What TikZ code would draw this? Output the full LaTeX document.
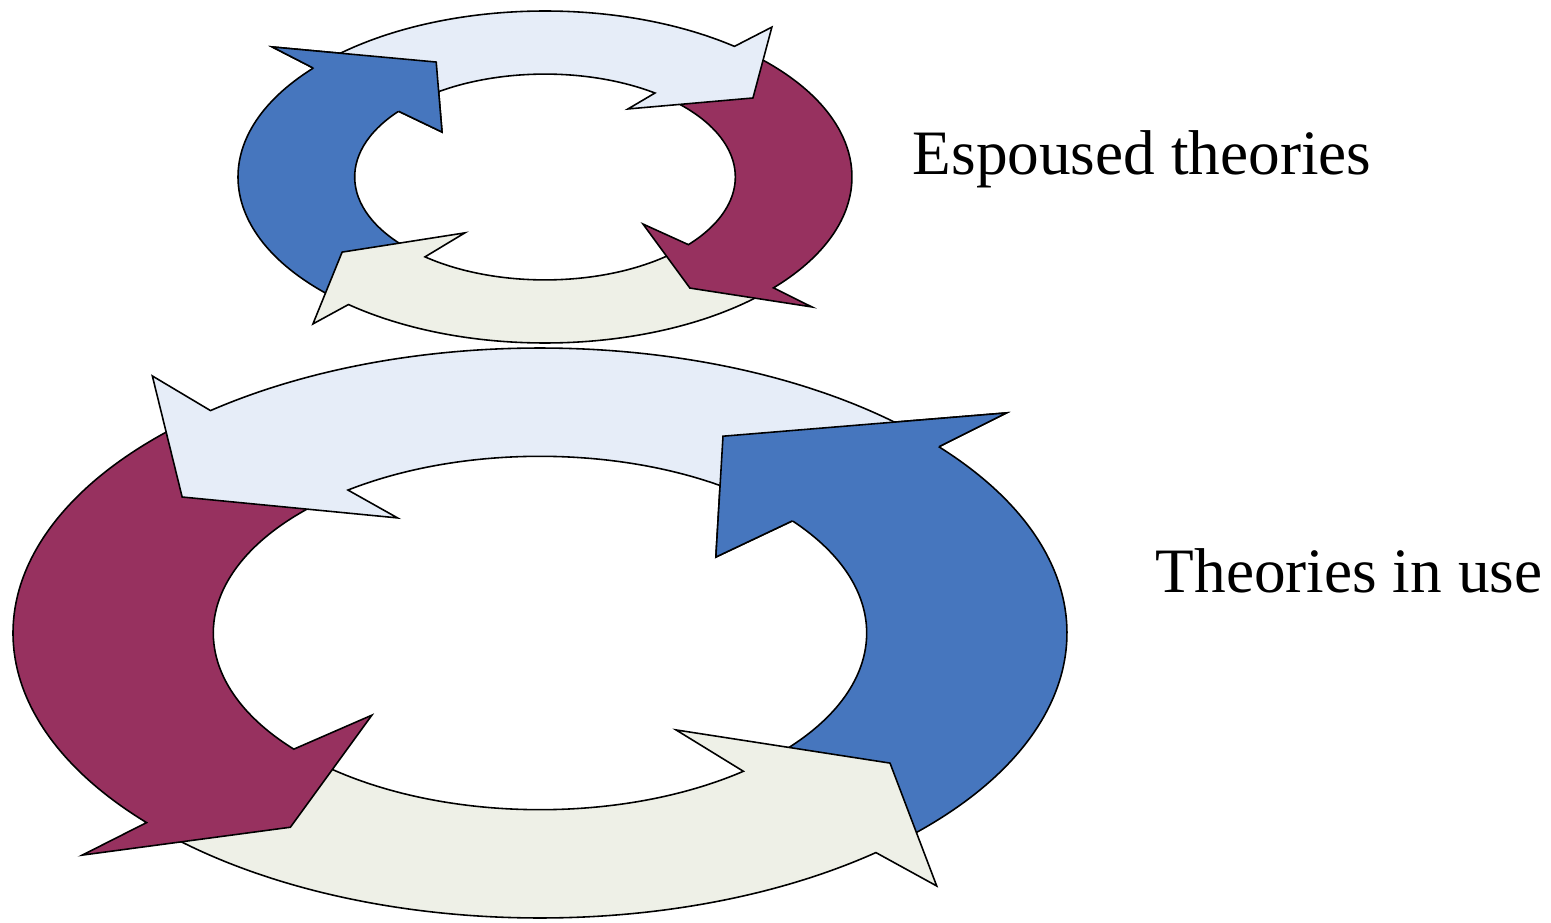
\documentclass[tikz,border=0pt]{standalone}
\usepackage{fontspec}
\setmainfont{Liberation Serif}

\definecolor{paleblue}{HTML}{E6EDF8}
\definecolor{palegrey}{HTML}{EEF0E7}
\definecolor{wine}{HTML}{97315F}
\definecolor{steel}{HTML}{4676BE}

% one arrow of a cycle: fill, tail angle, outer notch angle,
% outer barb, tip, inner barb, inner notch angle
\newcommand{\cyclearrow}[7]{%
  \filldraw[fill=#1] (#2:1) arc[start angle=#2, end angle=#3, radius=1]
    -- (#4) -- (#5) -- (#6) -- (#7:0.62)
    arc[start angle=#7, end angle=#2, radius=0.62] -- cycle;}
% head only, drawn again over the tail of the first arrow
\newcommand{\cyclehead}[6]{%
  \fill[#1] (#2:1) -- (#3) -- (#4) -- (#5) -- (#6:0.62) -- cycle;
  \draw (#2:1) -- (#3) -- (#4) -- (#5) -- (#6:0.62);}

\begin{document}
\begin{tikzpicture}[x=0.1mm,y=0.1mm,line width=0.45pt,
    label/.style={anchor=base west,inner sep=0pt,font=\fontsize{18}{22}\selectfont}]
   \useasboundingbox (0,0) rectangle (1551,922);
   % theories in use
   \begin{scope}[shift={(540,289)},xscale=527,yscale=285]
      \cyclearrow{steel}{-47}{40.8}{41.1:1.175}{63.3:0.773}{38.6:0.427}{39.4}
      \cyclearrow{palegrey}{225}{309.6}{310.3:1.164}{325.5:0.806}{307.2:0.427}{308.5}
      \cyclearrow{wine}{131}{221.7}{221.9:1.167}{235.2:0.830}{222.1:0.430}{221.1}
      \cyclearrow{paleblue}{44}{128.7}{129.2:1.164}{144.9:0.830}{123.8:0.486}{126.0}
      \cyclehead{steel}{40.8}{41.1:1.175}{63.3:0.773}{38.6:0.427}{39.4}
   \end{scope}
   % espoused theories
   \begin{scope}[shift={(545,745)},xscale=307,yscale=166]
      \cyclearrow{steel}{227}{139.0}{138.6:1.185}{117.1:0.778}{141.1:0.431}{140.3}
      \cyclearrow{palegrey}{-45}{-129.8}{-130.5:1.164}{-145.6:0.801}{-127.8:0.426}{-129.1}
      \cyclearrow{wine}{49.5}{-41.9}{-42.0:1.170}{-54.8:0.819}{-41.6:0.427}{-41.1}
      \cyclearrow{paleblue}{136}{51.9}{50.7:1.167}{35.1:0.828}{56.6:0.491}{54.7}
      \cyclehead{steel}{139.0}{138.6:1.185}{117.1:0.778}{141.1:0.431}{140.3}
   \end{scope}
   \node (espoused) at (912,747) [label] {Espoused theories};
   \node (inuse) at (1155,330) [label] {Theories in use};
\end{tikzpicture}
\end{document}
